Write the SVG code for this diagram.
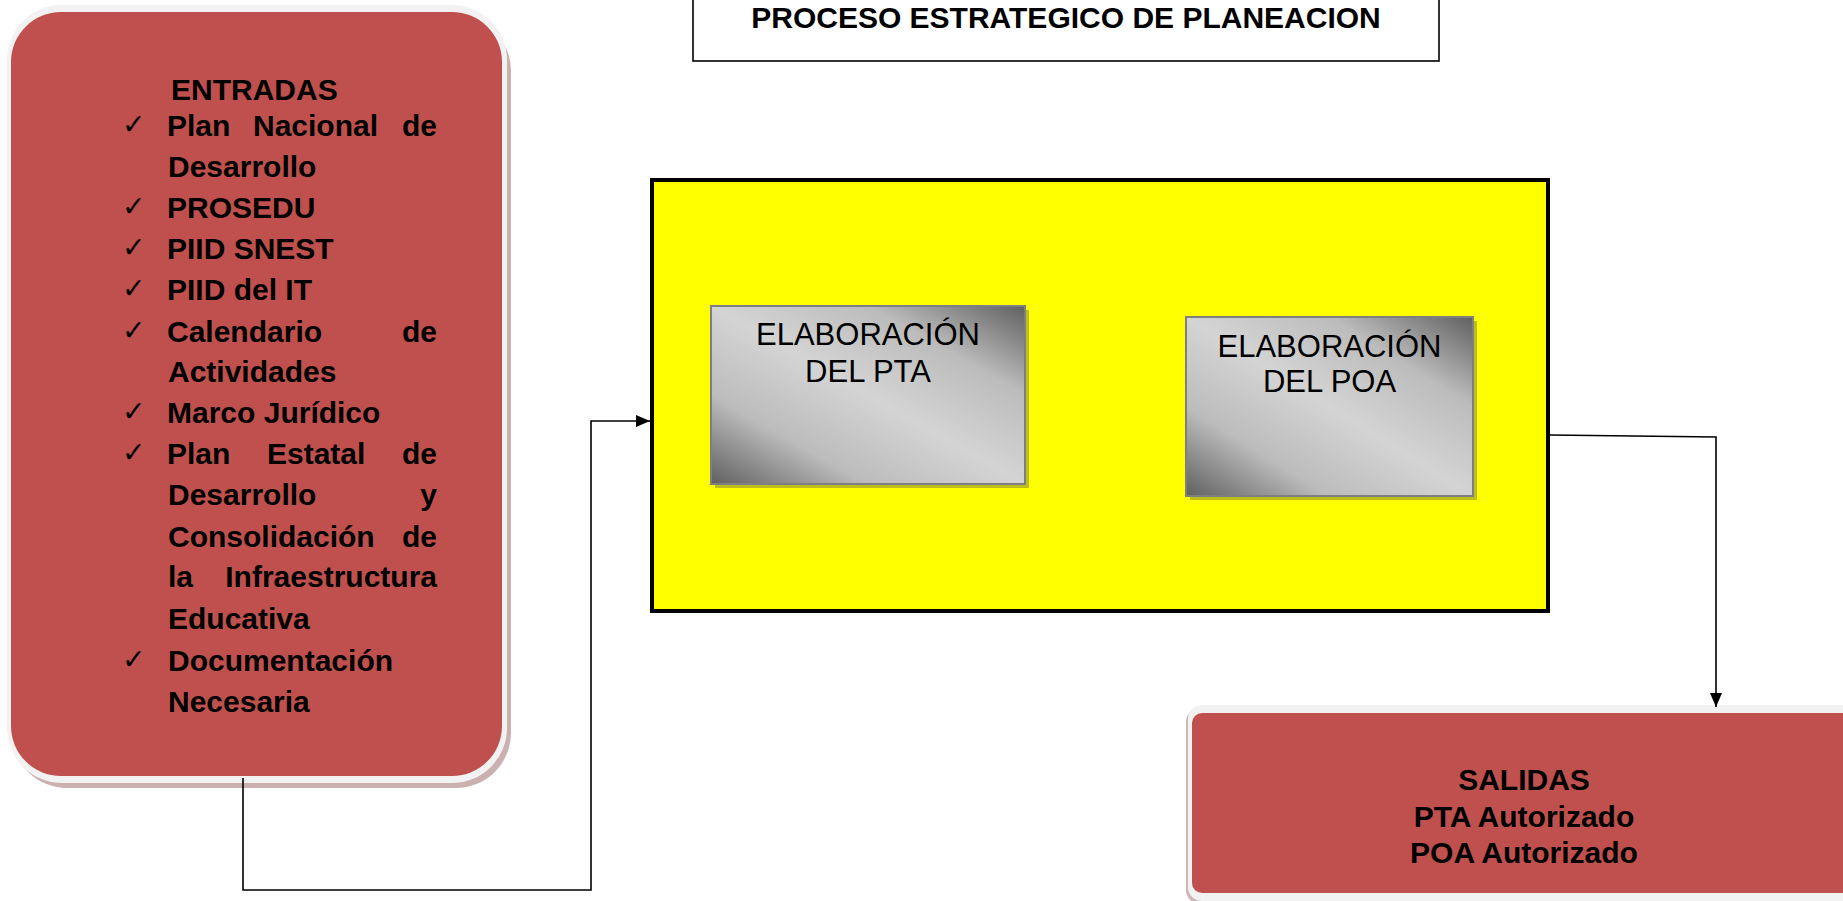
<svg xmlns="http://www.w3.org/2000/svg" width="1843" height="901" viewBox="0 0 1843 901">
<style>
.red{fill:#c0504d}
.rim{fill:#f2f2f2}
.bt{font-family:"Liberation Sans",Arial,sans-serif;font-weight:bold;font-size:30px;fill:#000}
.rt{font-family:"Liberation Sans",Arial,sans-serif;font-size:31px;fill:#000}
.ck{font-family:"DejaVu Sans",sans-serif;font-weight:bold;font-size:28px;fill:#000}
.gray{fill:url(#gg);stroke:#7f7f7f;stroke-width:2}
.gsh{fill:#bdbd20}
.conn{fill:none;stroke:#000;stroke-width:1.6}
</style>
<defs>
<linearGradient id="gg" x1="1" y1="0" x2="0" y2="1">
<stop offset="0" stop-color="#606060"/>
<stop offset="0.25" stop-color="#bcbcbc"/>
<stop offset="0.5" stop-color="#d4d4d4"/>
<stop offset="0.75" stop-color="#bcbcbc"/>
<stop offset="1" stop-color="#606060"/>
</linearGradient>
<marker id="ah" markerWidth="14" markerHeight="12" refX="14" refY="6" orient="auto" markerUnits="userSpaceOnUse">
<path d="M0,0 L14,6 L0,12 Z" fill="#000"/>
</marker>
</defs>

<g id="title">
<rect x="693" y="-10" width="746" height="71" fill="#fff" stroke="#000" stroke-width="1.6"/>
<text class="bt" x="1066" y="28" text-anchor="middle">PROCESO ESTRATEGICO DE PLANEACION</text>
</g>

<g id="entradas">
<rect x="12" y="16" width="499" height="772" rx="55" fill="#a07070" opacity="0.55"/>
<rect class="rim" x="7" y="5" width="500" height="778" rx="55"/>
<rect class="red" x="11" y="12" width="491" height="764" rx="50"/>
<text class="bt" x="171" y="100">ENTRADAS</text>
<text class="ck" x="122" y="134">✓</text>
<text class="bt" y="136"><tspan x="167">Plan</tspan><tspan x="253">Nacional</tspan><tspan x="437" text-anchor="end">de</tspan></text>
<text class="bt" x="168" y="177">Desarrollo</text>
<text class="ck" x="122" y="216">✓</text>
<text class="bt" x="167" y="218">PROSEDU</text>
<text class="ck" x="122" y="257">✓</text>
<text class="bt" x="167" y="259">PIID SNEST</text>
<text class="ck" x="122" y="298">✓</text>
<text class="bt" x="167" y="300">PIID del IT</text>
<text class="ck" x="122" y="340">✓</text>
<text class="bt" y="342"><tspan x="167">Calendario</tspan><tspan x="437" text-anchor="end">de</tspan></text>
<text class="bt" x="168" y="382">Actividades</text>
<text class="ck" x="122" y="421">✓</text>
<text class="bt" x="167" y="423">Marco Jurídico</text>
<text class="ck" x="122" y="462">✓</text>
<text class="bt" y="464"><tspan x="167">Plan</tspan><tspan x="267">Estatal</tspan><tspan x="437" text-anchor="end">de</tspan></text>
<text class="bt" y="505"><tspan x="168">Desarrollo</tspan><tspan x="437" text-anchor="end">y</tspan></text>
<text class="bt" y="547"><tspan x="168">Consolidación</tspan><tspan x="437" text-anchor="end">de</tspan></text>
<text class="bt" y="587"><tspan x="168">la</tspan><tspan x="437" text-anchor="end">Infraestructura</tspan></text>
<text class="bt" x="168" y="629">Educativa</text>
<text class="ck" x="122" y="669">✓</text>
<text class="bt" x="168" y="671">Documentación</text>
<text class="bt" x="168" y="712">Necesaria</text>
</g>

<g id="proceso">
<rect x="652" y="180" width="896" height="431" fill="#ffff00" stroke="#000" stroke-width="4"/>
</g>

<g id="pta">
<rect class="gsh" x="715" y="310" width="314" height="178"/>
<rect class="gray" x="711" y="306" width="314" height="178"/>
<text class="rt" x="868" y="345" text-anchor="middle">ELABORACIÓN</text>
<text class="rt" x="868" y="382" text-anchor="middle">DEL PTA</text>
</g>

<g id="poa">
<rect class="gsh" x="1190" y="321" width="287" height="179"/>
<rect class="gray" x="1186" y="317" width="287" height="179"/>
<text class="rt" x="1329.5" y="357" text-anchor="middle">ELABORACIÓN</text>
<text class="rt" x="1329.5" y="392" text-anchor="middle">DEL POA</text>
</g>

<g id="salidas">
<rect x="1186" y="708" width="680" height="196" rx="14" fill="#a07070" opacity="0.5"/>
<rect class="rim" x="1188" y="705" width="680" height="196" rx="14"/>
<rect class="red" x="1192" y="713" width="680" height="180" rx="10"/>
<text class="bt" x="1524" y="790" text-anchor="middle">SALIDAS</text>
<text class="bt" x="1524" y="827" text-anchor="middle">PTA Autorizado</text>
<text class="bt" x="1524" y="863" text-anchor="middle">POA Autorizado</text>
</g>

<g id="connectors">
<polyline class="conn" points="243,778 243,890 591,890 591,421 650,421" marker-end="url(#ah)"/>
<polyline class="conn" points="1550,435 1716,437 1716,707" marker-end="url(#ah)"/>
</g>
</svg>
